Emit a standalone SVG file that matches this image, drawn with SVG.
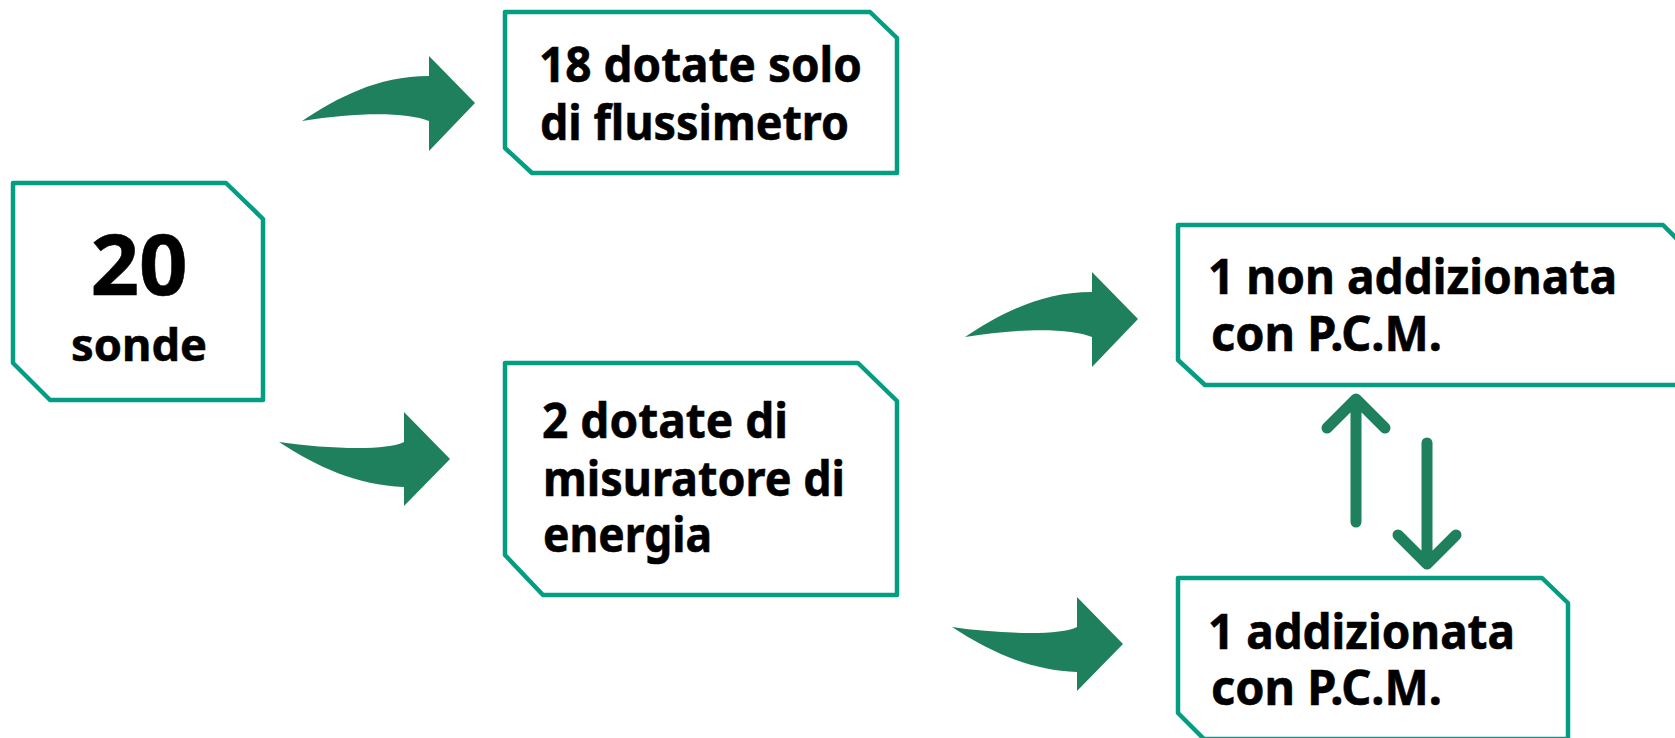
<svg xmlns="http://www.w3.org/2000/svg" xmlns:xlink="http://www.w3.org/1999/xlink" width="1675" height="738" viewBox="0 0 1675 738">
<style>
.box{fill:#ffffff;stroke:#039D82;stroke-width:4.5;stroke-linejoin:round}
.t{font-family:"Noto Sans","Open Sans","DejaVu Sans",sans-serif;font-weight:700;fill:#000000;stroke:#000000;stroke-width:0.6;font-size:49px}
.arr{fill:#1E805D}
.sarr{fill:none;stroke:#1E805D;stroke-width:11;stroke-linecap:round;stroke-linejoin:round}
</style>
<defs>
<path id="curveUp" d="M -127,65 C -92,42 -52,20 0,20 L 0,0 L 46,47 L 0,95 L 0,65 C -22,56 -72,56 -127,65 Z"/>
<path id="curveDown" d="M -125,30 C -77,37 -17,39 0,30 L 0,0 L 46,47 L 0,94 L 0,75 C -47,73 -87,55 -125,30 Z"/>
</defs>
<rect width="1675" height="738" fill="#ffffff"/>
<g id="connectors">
<use xlink:href="#curveUp" href="#curveUp" class="arr" transform="translate(429,56)"/>
<use xlink:href="#curveDown" href="#curveDown" class="arr" transform="translate(404,412)"/>
<use xlink:href="#curveUp" href="#curveUp" class="arr" transform="translate(1092,272)"/>
<use xlink:href="#curveDown" href="#curveDown" class="arr" transform="translate(1077,597)"/>
<path class="sarr" d="M1356,522 L1356,400 M1327,428 L1356,399 L1385,428"/>
<path class="sarr" d="M1427,443 L1427,563 M1398,535 L1427,564 L1456,535"/>
</g>
<g id="node-20-sonde">
<path class="box" d="M13,183 L226,183 L263,219 L263,400 L50,400 L13,363 Z"/>
<text class="t" x="139" y="295" text-anchor="middle" style="font-size:85px">20</text>
<text class="t" x="139" y="361" text-anchor="middle" style="font-size:45px" textLength="136" lengthAdjust="spacingAndGlyphs">sonde</text>
</g>
<g id="node-18-dotate">
<path class="box" d="M505,12 L870,12 L897,38 L897,173 L532,173 L505,148 Z"/>
<text class="t" x="539" y="82" textLength="323" lengthAdjust="spacingAndGlyphs">18 dotate solo</text>
<text class="t" x="540" y="140" textLength="309" lengthAdjust="spacingAndGlyphs">di flussimetro</text>
</g>
<g id="node-2-dotate">
<path class="box" d="M505,363 L858,363 L897,401 L897,595 L543,595 L505,555 Z"/>
<text class="t" x="542" y="438" textLength="246" lengthAdjust="spacingAndGlyphs">2 dotate di</text>
<text class="t" x="543" y="496" textLength="302" lengthAdjust="spacingAndGlyphs">misuratore di</text>
<text class="t" x="543" y="552" textLength="169" lengthAdjust="spacingAndGlyphs">energia</text>
</g>
<g id="node-1-non-addizionata">
<path class="box" d="M1178,225 L1663,225 L1700,262 L1700,385 L1205,385 L1178,360 Z"/>
<text class="t" x="1208" y="294" textLength="409" lengthAdjust="spacingAndGlyphs">1 non addizionata</text>
<text class="t" x="1211" y="351" textLength="231" lengthAdjust="spacingAndGlyphs">con P.C.M.</text>
</g>
<g id="node-1-addizionata">
<path class="box" d="M1178,578 L1542,578 L1568,603 L1568,739 L1204,739 L1178,713 Z"/>
<text class="t" x="1208" y="649" textLength="307" lengthAdjust="spacingAndGlyphs">1 addizionata</text>
<text class="t" x="1211" y="705" textLength="231" lengthAdjust="spacingAndGlyphs">con P.C.M.</text>
</g>
</svg>
